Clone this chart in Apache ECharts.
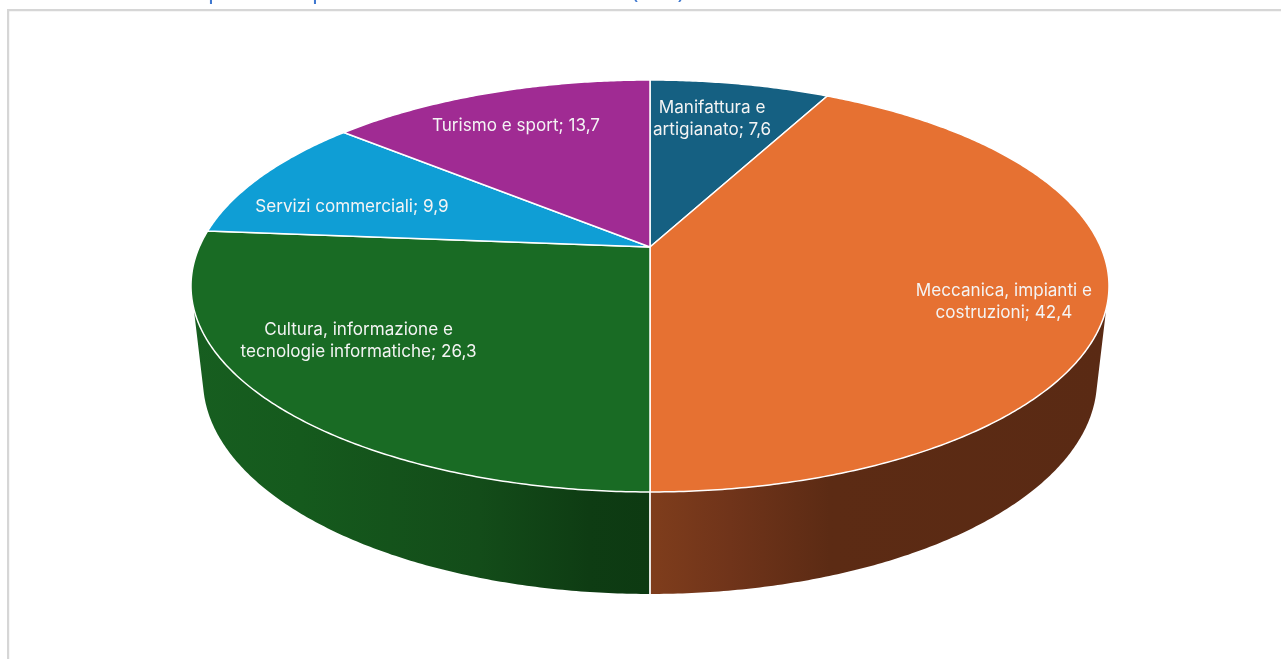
<!DOCTYPE html>
<html><head><meta charset="utf-8">
<style>html,body{margin:0;padding:0;background:#fff;overflow:hidden}#c{width:1281px;height:659px}</style>
<script src="https://cdn.jsdelivr.net/npm/echarts@6/dist/echarts.min.js"></script>
</head><body><div id="c"></div>
<script>
// Data
var categories = ['Manifattura e\nartigianato', 'Meccanica, impianti e\ncostruzioni', 'Cultura, informazione e\ntecnologie informatiche', 'Servizi commerciali', 'Turismo e sport'];
var values = [7.6, 42.4, 26.3, 9.9, 13.7];
var valueLabels = ['7,6', '42,4', '26,3', '9,9', '13,7'];

// Style
var topColors = ['#156082', '#E67132', '#196B24', '#0F9ED5', '#A02B93'];
var labelRadius = [0.757, 0.79, 0.733, 0.721, 0.772];
var labelAngleShift = [-1.7, 5.3, 6.8, -5.15, -1.0];
var labelFont = '17.1px Inter';

// Projection of the disc onto the page
var topDisc = {cx: 650, cy: 247, A: 450.7, B: 198.6, k: 0.1893};
var baseDisc = {cx: 650, cy: 343.6, A: 440.5, B: 207.8, k: 0.17};
var tangent = {rightTop: 107, rightBase: 103, leftTop: 253, leftBase: 257};

function project(d, deg, r) {
  r = r === undefined ? 1 : r;
  var t = deg * Math.PI / 180, u = r * Math.sin(t), v = r * Math.cos(t), w = 1 + d.k * v;
  return [d.cx + d.A * u / w, d.cy - d.B * v / w];
}
function arc(d, from, to, r) {
  var pts = [], n = Math.max(2, Math.ceil(Math.abs(to - from) * 2));
  for (var i = 0; i <= n; i++) pts.push(project(d, from + (to - from) * i / n, r));
  return pts;
}
// Percentages: the rounded values sum to 99.9, the last slice closes the circle.
var sliceData = [], acc = 0;
values.forEach(function (v, i) {
  var a = acc / 100 * 360; acc += v;
  sliceData.push([i, a, i === values.length - 1 ? 360 : acc / 100 * 360]);
});

function grad(stops) {
  return {type: 'linear', global: true, x: 190, y: 0, x2: 1110, y2: 0,
    colorStops: stops.map(function (s) { return {offset: (s[0] - 190) / 920, color: s[1]}; })};
}
var wallFill = {
  1: grad([[650, '#7f3d1c'], [730, '#70341a'], [830, '#5c2b14'], [1110, '#5a2a14']]),
  2: grad([[190, '#175e20'], [300, '#155a1d'], [480, '#134c19'], [590, '#0e3c13'], [650, '#0d3a12']])
};

function renderWall(params, api) {
  var i = api.value(0), a = api.value(1), b = api.value(2);
  if (!wallFill[i]) return {type: 'group', children: []};
  var ta = Math.max(a, tangent.rightTop), tb = Math.min(b, tangent.leftTop);
  var ba = Math.max(a, tangent.rightBase), bb = Math.min(b, tangent.leftBase);
  var poly = arc(topDisc, ta, tb).concat(arc(baseDisc, bb, ba));
  return {type: 'group', children: [
    {type: 'polygon', z2: 1, shape: {points: poly}, style: {fill: wallFill[i]}},
    {type: 'polyline', z2: 2, shape: {points: [project(topDisc, 180), project(baseDisc, 180)]},
      style: {stroke: '#f0f0f0', lineWidth: 1.5, fill: null}}
  ]};
}
function renderTop(params, api) {
  var i = api.value(0), a = api.value(1), b = api.value(2);
  var pts = [project(topDisc, 0, 0)].concat(arc(topDisc, a, b));
  return {type: 'polygon', shape: {points: pts},
    style: {fill: topColors[i], stroke: '#fff', lineWidth: 1.5, lineJoin: 'round'}};
}
function renderLabel(params, api) {
  var i = api.value(0), mid = (api.value(1) + api.value(2)) / 2;
  var p = project(topDisc, mid + labelAngleShift[i], labelRadius[i]);
  return {type: 'text', x: p[0], y: p[1] + 1, style: {
    text: categories[i] + '; ' + valueLabels[i], fill: '#f4f4f4', font: labelFont,
    align: 'center', verticalAlign: 'middle', lineHeight: 22.5}};
}
function cut(t, x) {
  return {type: 'text', x: x, y: -9, style: {text: t, fill: '#3f78d0', font: '23px "Noto Sans"', align: 'center', verticalAlign: 'middle'}};
}

var chart = echarts.init(document.getElementById('c'), null, {renderer: 'canvas'});
chart.setOption({
  animation: false,
  backgroundColor: '#fff',
  graphic: [
    {type: 'rect', shape: {x: 7, y: 9, width: 2.2, height: 650}, style: {fill: '#d6d6d6'}},
    {type: 'rect', shape: {x: 7, y: 9, width: 1274, height: 2.2}, style: {fill: '#d6d6d6'}},
    cut('p', 215), cut('p', 319), cut('(', 635), cut(')', 681)
  ],
  series: [
    {type: 'custom', coordinateSystem: 'none', renderItem: renderWall, data: sliceData, z: 2, silent: true},
    {type: 'custom', coordinateSystem: 'none', renderItem: renderTop, data: sliceData, z: 3, silent: true},
    {type: 'custom', coordinateSystem: 'none', renderItem: renderLabel, data: sliceData, z: 4, silent: true}
  ]
});
</script></body></html>
